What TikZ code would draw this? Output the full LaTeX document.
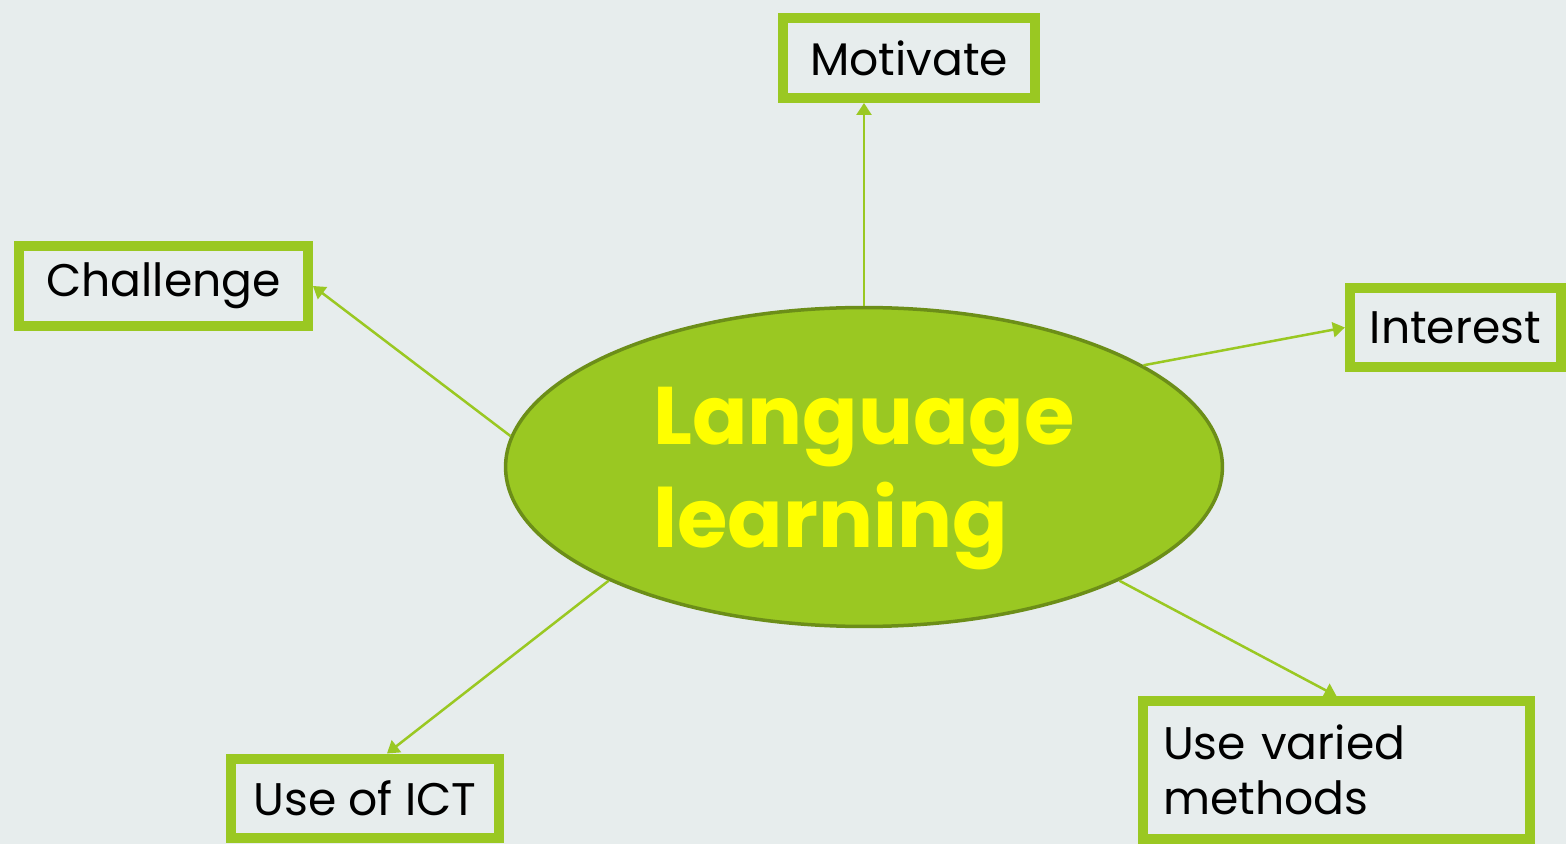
\documentclass[tikz,border=0pt]{standalone}
\usepackage{fontspec}
\setmainfont{Poppins}
\usetikzlibrary{calc, positioning, shapes.geometric, arrows.meta}
\definecolor{bgcol}{RGB}{231,237,237}
\definecolor{leaf}{RGB}{154,200,34}
\definecolor{leafdark}{RGB}{108,142,24}
\definecolor{sun}{RGB}{255,255,0}
\tikzset{
  % Set arrowhead
  >={Triangle[length=2.4mm, width=3mm]},
  % Central topic
  topic/.style={draw=leafdark, fill=leaf, shape=ellipse, line width=0.07cm,
    minimum width=14.34cm, minimum height=6.38cm, align=left, text depth=0pt,
    text=sun, font=\bfseries\fontsize{46.5}{58.6}\selectfont},
  % Idea box
  idea/.style={draw=leaf, fill=bgcol, shape=rectangle, line width=0.2cm,
    align=left, inner xsep=0.4cm, inner ysep=0pt, minimum height=1.6cm,
    minimum width=#1, font=\fontsize{26}{31.5}\selectfont},
  % Arrows
  link/.style={->, draw=leaf, line width=0.05cm},
}
\begin{document}
\begin{tikzpicture}[x=0.02cm, y=-0.02cm]
  \fill[bgcol] (0,0) rectangle (1566,844);
  \useasboundingbox (0,0) rectangle (1566,844);

  \node[topic] (lang) at (864,467) {Language\\learning};

  \node[idea=5.04cm] (mot) at (909,58) {Motivate};
  \node[idea=5.78cm] (chal) at (163.5,286) {Challenge};
  \node[idea=4.22cm] (int) at (1455.5,327.5) {Interest};
  \node[idea=5.36cm] (ict) at (365,798.5) {Use of ICT};
  \node[idea=7.74cm, text width=6.94cm, minimum height=2.76cm] (var)
    at (1336.5,770) {Use varied\\methods};

  \draw[link] (lang.90) -- (lang.90 |- mot.south);
  \draw[link] (lang.175) -- (chal.east);
  \draw[link] (lang.20) -- (int.west);
  \draw[link] (lang.204) -- ($(ict.north)+(22,0)$);
  \draw[link] (lang.336) -- (var.north);
\end{tikzpicture}
\end{document}
